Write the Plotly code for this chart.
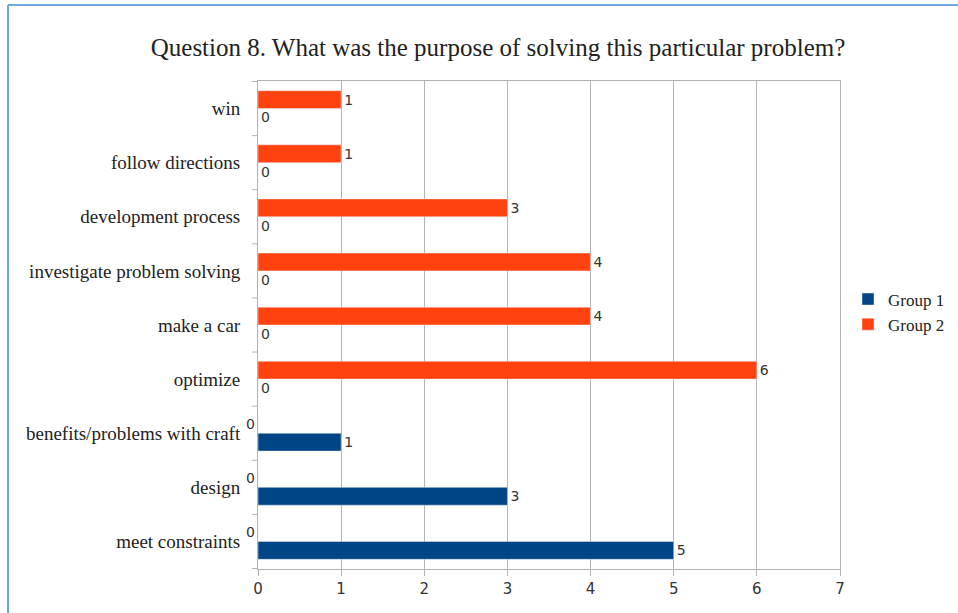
import plotly.graph_objects as go

categories = ["meet constraints", "design", "benefits/problems with craft", "optimize",
              "make a car", "investigate problem solving", "development process",
              "follow directions", "win"]
group1 = [5, 3, 1, 0, 0, 0, 0, 0, 0]
group2 = [0, 0, 0, 6, 4, 4, 3, 1, 1]
x_ticks = [0, 1, 2, 3, 4, 5, 6, 7]

BLUE = "#004586"
ORANGE = "#ff420e"
SERIF = "Liberation Serif"
SANS = "DejaVu Sans"

L, R, T, B = 258, 118, 81, 44
W, H = 958, 613
pw, ph = W - L - R, H - T - B

def px_to_paper_x(px):
    return (px - L) / pw

def px_to_paper_y(py):
    return (H - B - py) / ph

fig = go.Figure()
fig.add_trace(go.Bar(
    name="Group 1", y=categories, x=group1, orientation="h", marker_color=BLUE,
    text=[str(v) for v in group1], textposition="outside",
    textfont=dict(family=SANS, size=14, color="#333333"), cliponaxis=False,
))
fig.add_trace(go.Bar(
    name="Group 2", y=categories, x=group2, orientation="h", marker_color=ORANGE,
    text=[str(v) if v != 0 else "" for v in group2], textposition="outside",
    textfont=dict(family=SANS, size=14, color="#333333"), cliponaxis=False,
))

# zero labels of Group 2 sit to the left of the axis, in the Group 2 slot
annotations = []
for c, v in zip(categories, group2):
    if v == 0:
        annotations.append(dict(
            x=v, y=c, xref="x", yref="y", text=str(v), showarrow=False,
            xanchor="right", yanchor="middle", xshift=-1, yshift=9,
            font=dict(family=SANS, size=14, color="#333333"),
        ))

shapes = [
    dict(type="line", xref="paper", yref="paper",
         x0=px_to_paper_x(8), x1=px_to_paper_x(8),
         y0=px_to_paper_y(5), y1=px_to_paper_y(620),
         line=dict(color="#6fa8dc", width=2)),
    dict(type="line", xref="paper", yref="paper",
         x0=px_to_paper_x(8), x1=px_to_paper_x(970),
         y0=px_to_paper_y(5), y1=px_to_paper_y(5),
         line=dict(color="#6fa8dc", width=2)),
]

fig.update_layout(
    width=W, height=H,
    margin=dict(l=L, r=R, t=T, b=B, autoexpand=False),
    paper_bgcolor="white", plot_bgcolor="white",
    barmode="group", bargap=0.34, bargroupgap=0,
    title=dict(text="Question 8. What was the purpose of solving this particular problem?",
               x=498 / W, xref="container", xanchor="center",
               y=1 - 47 / H, yref="container", yanchor="middle",
               font=dict(family=SERIF, size=25, color="#222222")),
    xaxis=dict(range=[0, 7], tickvals=x_ticks, ticktext=[str(t) for t in x_ticks],
               showgrid=True, gridcolor="#b3b3b3", gridwidth=1,
               showline=True, linecolor="#b3b3b3", linewidth=1, mirror=True,
               ticks="outside", ticklen=6, tickcolor="#b3b3b3",
               tickfont=dict(family=SANS, size=15, color="#333333"), zeroline=False),
    yaxis=dict(showgrid=False, showline=True, linecolor="#b3b3b3", linewidth=1, mirror=True,
               ticks="", tickfont=dict(family=SERIF, size=19, color="#222222"),
               ticklabelstandoff=13),
    legend=dict(x=px_to_paper_x(848), y=px_to_paper_y(312), xanchor="left", yanchor="middle",
                font=dict(family=SERIF, size=17, color="#222222"), traceorder="normal",
                bgcolor="rgba(0,0,0,0)", itemwidth=30, tracegroupgap=0),
    showlegend=True,
    annotations=annotations,
    shapes=shapes,
)

# category boundary tick marks on the y axis
for i in range(len(categories) + 1):
    yb = i - 0.5
    fig.add_shape(type="line", xref="paper", yref="y", x0=px_to_paper_x(252), x1=0,
                  y0=yb, y1=yb, line=dict(color="#b3b3b3", width=1))

fig.write_html("out.html")
